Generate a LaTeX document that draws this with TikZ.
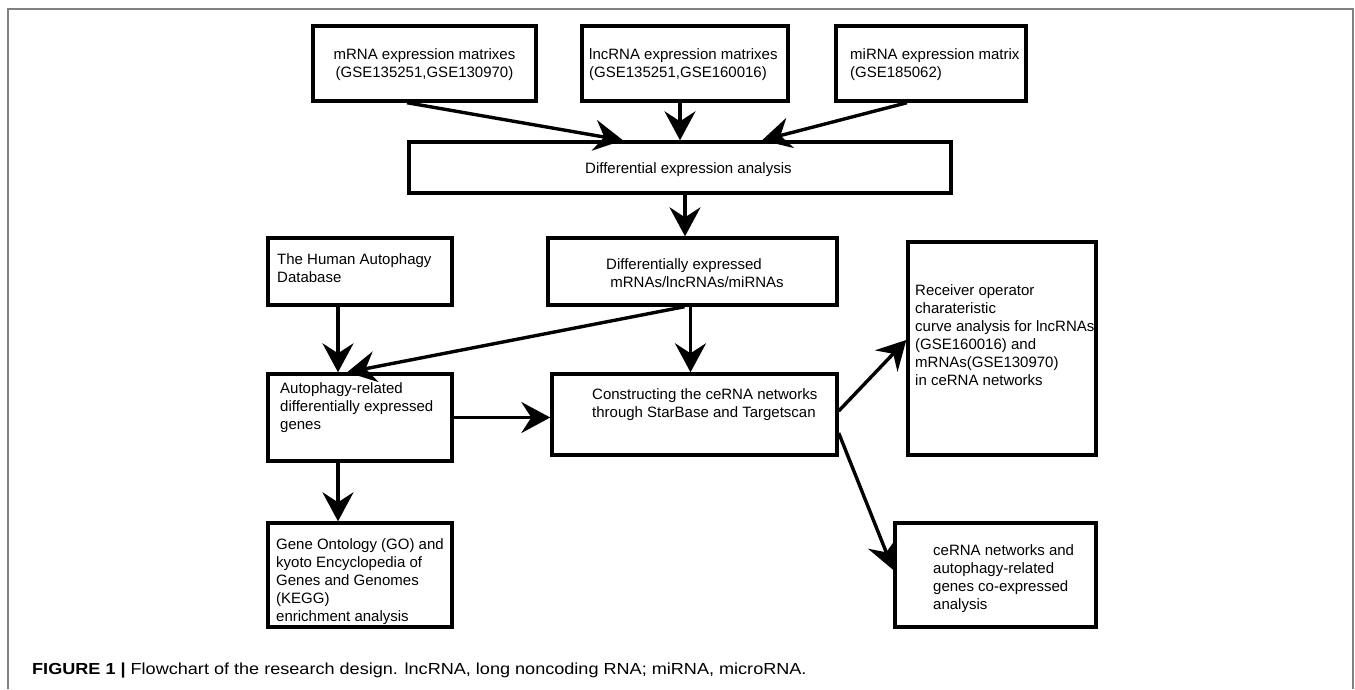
\documentclass[tikz,border=0pt]{standalone}
\usepackage{fontspec}
\setmainfont{Liberation Sans}
\usetikzlibrary{arrows.meta}
\tikzset{
  box/.style={draw=black, line width=3.4pt, rectangle, inner sep=0pt, fill=white},
  txt/.style={inner sep=0pt, align=left, anchor=north west, font=\fontsize{15}{18}\selectfont},
  arr/.style={line width=3.4pt, -{Stealth[length=29pt, width=31pt, inset=10pt]}},
  frameline/.style={draw=black!50, line width=1.8pt}
}
\begin{document}
\begin{tikzpicture}[x=1pt, y=-1pt]
\useasboundingbox (0,0) rectangle (1355,689);
\fill[white] (0,0) rectangle (1355,689);
\draw[frameline] (8,689) -- (8,9) -- (1353,9) -- (1353,689);

% boxes
\node[box, minimum width=223pt, minimum height=75pt] (A) at (424.5,63.5) {};
\node[box, minimum width=206pt, minimum height=75pt] (B) at (685,63.5) {};
\node[box, minimum width=190pt, minimum height=75pt] (C) at (931,63.5) {};
\node[box, minimum width=542pt, minimum height=51pt] (D) at (680,167.5) {};
\node[box, minimum width=184pt, minimum height=67pt] (E) at (360,271.5) {};
\node[box, minimum width=289pt, minimum height=67pt] (F) at (692.5,271.5) {};
\node[box, minimum width=184pt, minimum height=87pt] (G) at (360,417.5) {};
\node[box, minimum width=285pt, minimum height=81pt] (H) at (694.5,414.5) {};
\node[box, minimum width=188pt, minimum height=213pt] (I) at (1002,348.5) {};
\node[box, minimum width=201pt, minimum height=104pt] (J) at (995.5,575) {};
\node[box, minimum width=184pt, minimum height=104pt] (K) at (360,575) {};

% texts
\node[txt, anchor=north, align=center] (tA) at (424.5,46.4) {\strut mRNA expression matrixes\\(GSE135251,GSE130970)};
\node[txt] (tB) at (589,46.4) {\strut lncRNA expression matrixes\\(GSE135251,GSE160016)};
\node[txt] (tC) at (850,46.4) {\strut miRNA expression matrix\\(GSE185062)};
\node[txt] (tD) at (585,160.4) {\strut Differential expression analysis};
\node[txt] (tE) at (277,251.4) {\strut The Human Autophagy\\Database};
\node[txt] (tF) at (606,256.4) {\strut Differentially expressed\\\ mRNAs/lncRNAs/miRNAs};
\node[txt] (tG) at (280,380.4) {\strut Autophagy-related\\differentially expressed\\genes};
\node[txt] (tH) at (592,386.4) {\strut Constructing the ceRNA networks\\through StarBase and Targetscan};
\node[txt] (tI) at (915,282.4) {\strut Receiver operator\\charateristic\\curve analysis for lncRNAs\\(GSE160016) and\\mRNAs(GSE130970)\\in ceRNA networks};
\node[txt] (tJ) at (933,542.4) {\strut ceRNA networks and\\autophagy-related\\genes co-expressed\\analysis};
\node[txt] (tK) at (276,536.4) {\strut Gene Ontology (GO) and\\kyoto Encyclopedia of\\Genes and Genomes\\(KEGG)\\enrichment analysis};

% connectors
\draw[arr] ([xshift=-17.5pt]A.south) -- ([xshift=-57pt]D.north);
\draw[arr] (B.south -| D.north) -- (D.north);
\draw[arr] ([xshift=-24pt]C.south) -- ([xshift=82pt]D.north);
\draw[arr] ([xshift=5pt]D.south) -- ([xshift=5pt]D.south |- F.north);
\draw[arr] ([xshift=-22pt]E.south) -- ([xshift=-22pt]G.north);
\draw[arr] ([xshift=-8pt]F.south) -- ([xshift=-13pt]G.north);
\draw[arr] ([xshift=-2pt]F.south) -- ([xshift=-2pt]F.south |- H.north);
\draw[arr] (G.east) -- (G.east -| H.west);
\draw[arr] ([yshift=3.5pt]H.east) -- ([yshift=8.5pt]I.west);
\draw[arr] ([yshift=-18.5pt]H.east) -- ([yshift=5pt]J.west);
\draw[arr] ([xshift=-22pt]G.south) -- ([xshift=-22pt]K.north);

% caption
\node[inner sep=0pt, anchor=base west, font=\fontsize{16}{19}\selectfont] (cap) at (32,674)
  {\scalebox{1.13}[1]{\textbf{FIGURE 1 |} Flowchart of the research design. lncRNA, long noncoding RNA; miRNA, microRNA.}};
\end{tikzpicture}
\end{document}
